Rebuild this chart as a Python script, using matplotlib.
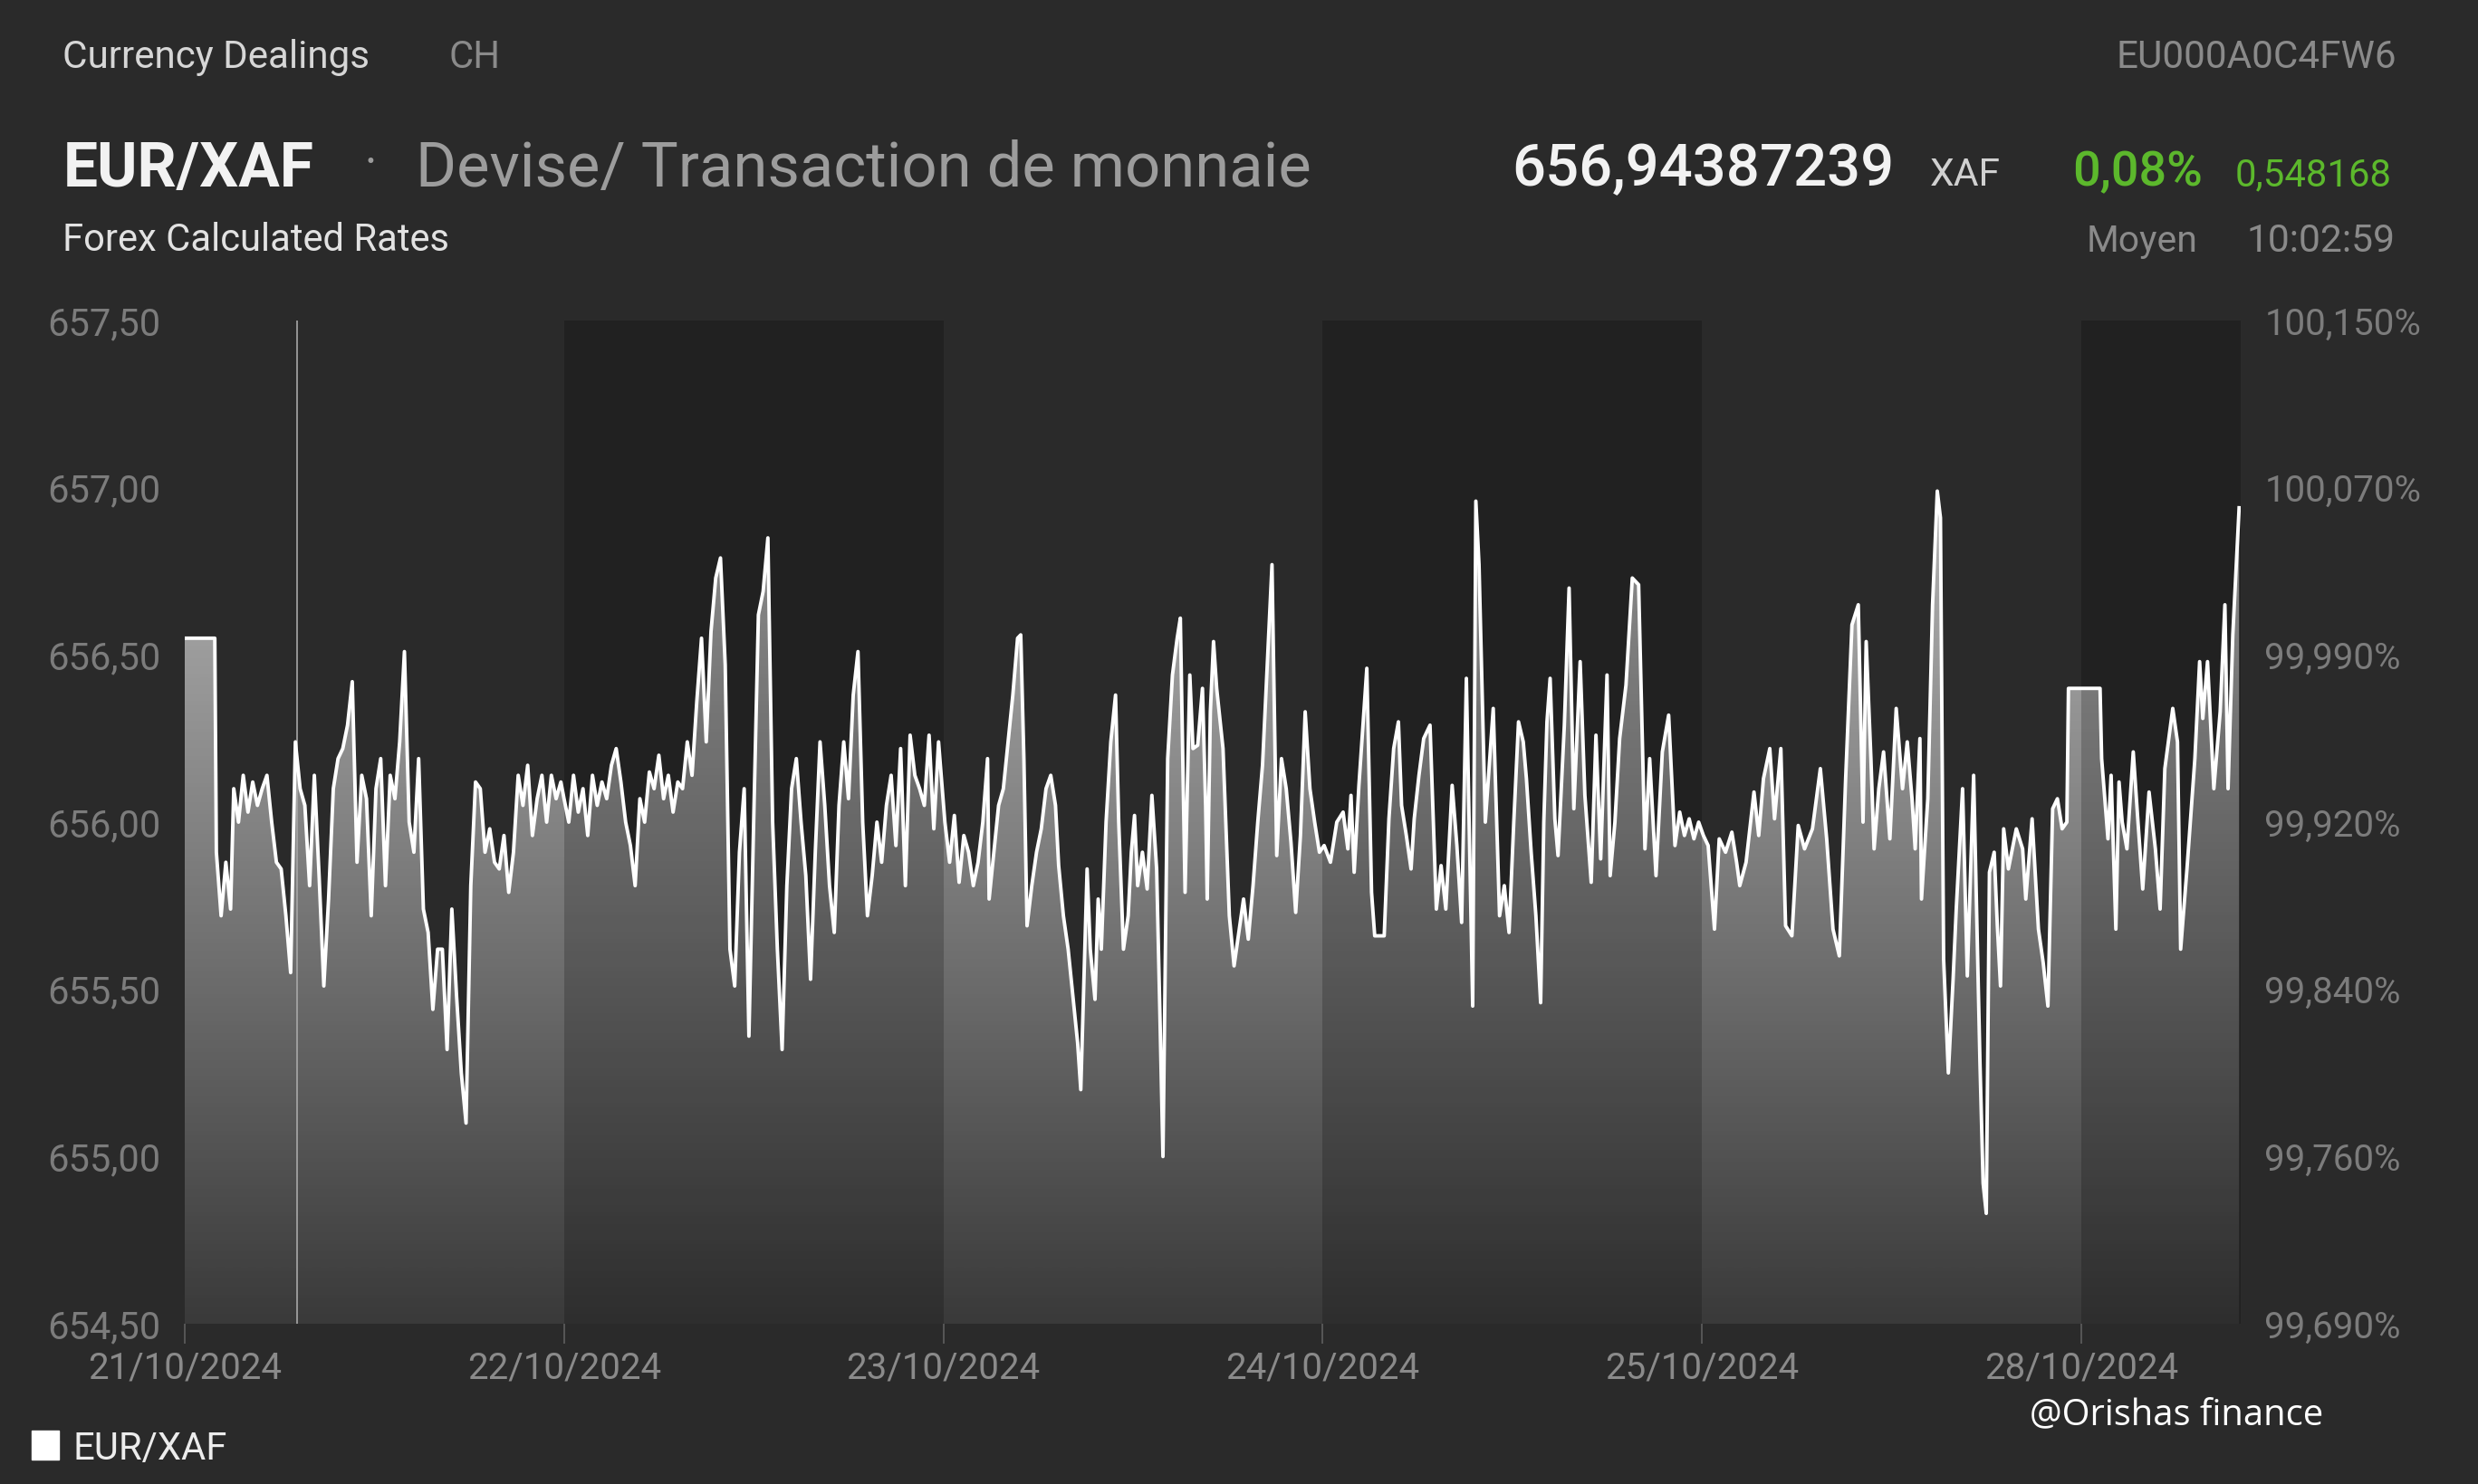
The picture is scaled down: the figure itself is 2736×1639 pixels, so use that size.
import matplotlib
matplotlib.use("Agg")
import matplotlib.pyplot as plt
from matplotlib.colors import LinearSegmentedColormap
from matplotlib.patches import Polygon, Rectangle
import numpy as np

W, H = 2736, 1639
BG = '#2a2a2a'
FONT = 'Roboto'

# ---- data: EUR/XAF, hours counted on the trading-day axis from 21/10 00:00 ----
h_2110 = [0.0, 1.9, 2.0, 2.3, 2.6, 2.9,
          3.1, 3.4, 3.7, 4.0, 4.3, 4.6, 4.9, 5.2, 5.5, 5.8,
          6.1, 6.4, 6.7, 7.0, 7.3, 7.6, 7.9, 8.2, 8.5, 8.8,
          9.1, 9.4, 9.7, 10.0, 10.3, 10.6, 10.9, 11.2, 11.5, 11.8,
          12.1, 12.4, 12.7, 13.0, 13.3, 13.6, 13.9, 14.2, 14.5, 14.8,
          15.1, 15.4, 15.7, 16.0, 16.3, 16.6, 16.9, 17.2, 17.5, 17.8,
          18.1, 18.4, 18.7, 19.0, 19.3, 19.6, 19.9, 20.2, 20.5, 20.8,
          21.1, 21.4, 21.7, 22.0, 22.3, 22.6, 22.9, 23.2, 23.5, 23.8]
r_2110 = [656.55, 656.55, 655.91, 655.72, 655.88, 655.74,
          656.10, 656.00, 656.14, 656.03, 656.12, 656.05, 656.10, 656.14, 656.00, 655.88,
          655.86, 655.72, 655.55, 656.24, 656.10, 656.05, 655.81, 656.14, 655.84, 655.51,
          655.77, 656.10, 656.19, 656.22, 656.29, 656.42, 655.88, 656.14, 656.07, 655.72,
          656.10, 656.19, 655.81, 656.14, 656.07, 656.24, 656.51, 656.00, 655.91, 656.19,
          655.74, 655.67, 655.44, 655.62, 655.62, 655.32, 655.74, 655.48, 655.25, 655.10,
          655.81, 656.12, 656.10, 655.91, 655.98, 655.88, 655.86, 655.96, 655.79, 655.91,
          656.14, 656.05, 656.17, 655.96, 656.07, 656.14, 656.00, 656.14, 656.07, 656.12]

h_2210 = [24.0, 24.3, 24.6, 24.9, 25.2, 25.5, 25.8, 26.1, 26.4, 26.7,
          27.0, 27.3, 27.6, 27.9, 28.2, 28.5, 28.8, 29.1, 29.4, 29.7,
          30.0, 30.3, 30.6, 30.9, 31.2, 31.5, 31.8, 32.1, 32.4, 32.7,
          33.0, 33.3, 33.6, 33.9, 34.2, 34.5, 34.8, 35.1, 35.4, 35.7,
          36.0, 36.3, 36.6, 36.9, 37.2, 37.5, 37.8, 38.1, 38.4, 38.7,
          39.0, 39.3, 39.6, 39.9, 40.2, 40.5, 40.8, 41.1, 41.4, 41.7,
          42.0, 42.3, 42.6, 42.9, 43.2, 43.5, 43.8, 44.1, 44.4, 44.7,
          45.0, 45.3, 45.6, 45.9, 46.2, 46.5, 46.8, 47.1, 47.4, 47.7]
r_2210 = [656.07, 656.00, 656.14, 656.03, 656.10, 655.96, 656.14, 656.05, 656.12, 656.07,
          656.17, 656.22, 656.12, 656.00, 655.93, 655.81, 656.07, 656.00, 656.15, 656.10,
          656.20, 656.07, 656.14, 656.03, 656.12, 656.10, 656.24, 656.14, 656.36, 656.55,
          656.24, 656.57, 656.73, 656.79, 656.47, 655.62, 655.51, 655.91, 656.10, 655.36,
          656.00, 656.62, 656.69, 656.85, 656.00, 655.62, 655.32, 655.81, 656.10, 656.19,
          656.00, 655.84, 655.53, 655.91, 656.24, 656.05, 655.81, 655.67, 656.05, 656.24,
          656.07, 656.38, 656.51, 656.00, 655.72, 655.84, 656.00, 655.88, 656.05, 656.14,
          655.93, 656.22, 655.81, 656.26, 656.14, 656.10, 656.05, 656.26, 655.98, 656.24]

h_2310 = [48.1, 48.4, 48.7, 49.0, 49.3, 49.6, 49.9, 50.2, 50.5, 50.8,
          50.9, 51.2, 51.5, 51.8, 52.1, 52.4, 52.7, 52.9, 53.1, 53.3,
          53.6, 53.9, 54.2, 54.5, 54.8, 55.1, 55.3, 55.6, 55.9, 56.2,
          56.5, 56.7, 56.9, 57.1, 57.3, 57.6, 57.8, 58.0, 58.3, 58.6,
          58.9, 59.1, 59.4, 59.7, 59.9, 60.1, 60.3, 60.6, 60.9, 61.2,
          61.5, 61.7, 61.9, 62.1, 62.2, 62.5, 62.8, 63.0, 63.3, 63.6,
          63.8, 64.1, 64.4, 64.6, 64.7, 64.9, 65.1, 65.3, 65.7, 66.1,
          66.4, 66.7, 67.0, 67.3, 67.6, 67.9, 68.2, 68.5, 68.8, 69.1,
          69.4, 69.7, 70.0, 70.3, 70.6, 70.9, 71.2, 71.5, 71.8]
r_2310 = [656.00, 655.88, 656.02, 655.82, 655.96, 655.91, 655.81, 655.88, 656.00, 656.19,
          655.77, 655.91, 656.05, 656.10, 656.24, 656.38, 656.55, 656.56, 656.19, 655.69,
          655.81, 655.91, 655.98, 656.10, 656.14, 656.05, 655.87, 655.72, 655.62, 655.48,
          655.34, 655.20, 655.53, 655.86, 655.62, 655.47, 655.77, 655.62, 656.00, 656.24,
          656.38, 656.00, 655.62, 655.72, 655.91, 656.02, 655.81, 655.91, 655.80, 656.08,
          655.86, 655.44, 655.00, 655.81, 656.19, 656.44, 656.55, 656.61, 655.79, 656.44,
          656.22, 656.23, 656.40, 656.05, 655.77, 656.33, 656.54, 656.40, 656.22, 655.72,
          655.57, 655.67, 655.77, 655.65, 655.81, 656.00, 656.17, 656.47, 656.77, 655.90,
          656.19, 656.10, 655.94, 655.73, 655.96, 656.33, 656.10, 656.00, 655.91]

h_2410 = [72.1, 72.5, 72.9, 73.3, 73.6, 73.8, 74.0, 74.3, 74.5, 74.8,
          75.1, 75.3, 75.7, 75.9, 76.2, 76.5, 76.8, 77.0, 77.3, 77.6,
          77.8, 78.1, 78.4, 78.8, 79.2, 79.5, 79.8, 80.2, 80.5, 80.8,
          81.1, 81.5, 81.7, 81.9, 82.1, 82.3, 82.8, 83.2, 83.5, 83.8,
          84.1, 84.4, 84.7, 84.9, 85.2, 85.5, 85.8, 86.0, 86.2, 86.4,
          86.7, 86.9, 87.3, 87.6, 87.9, 88.3, 88.6, 89.0, 89.3, 89.6,
          90.0, 90.2, 90.5, 90.8, 91.2, 91.6, 92.0, 92.4, 92.7, 93.1,
          93.5, 93.9, 94.3, 94.6, 94.9, 95.2, 95.5, 95.8]
r_2410 = [655.93, 655.88, 656.00, 656.03, 655.92, 656.08, 655.85, 656.11, 656.25, 656.46,
          655.79, 655.66, 655.66, 655.66, 656.01, 656.22, 656.30, 656.05, 655.96, 655.86,
          656.01, 656.14, 656.25, 656.29, 655.74, 655.87, 655.74, 656.11, 655.93, 655.70,
          656.43, 655.45, 656.96, 656.77, 656.38, 656.00, 656.34, 655.72, 655.81, 655.67,
          656.00, 656.30, 656.24, 656.13, 655.91, 655.72, 655.46, 656.00, 656.30, 656.43,
          656.01, 655.90, 656.29, 656.70, 656.04, 656.48, 656.08, 655.82, 656.26, 655.89,
          656.44, 655.84, 656.00, 656.25, 656.41, 656.73, 656.71, 655.92, 656.19, 655.84,
          656.21, 656.32, 655.93, 656.03, 655.96, 656.01, 655.95, 656.00]

h_2510 = [96.1, 96.4, 96.8, 97.1, 97.5, 97.9, 98.2, 98.4, 98.8, 99.3,
          99.6, 99.9, 100.3, 100.6, 101.0, 101.3, 101.7, 102.1, 102.5, 103.0,
          103.5, 103.9, 104.3, 104.7, 105.1, 105.5, 105.9, 106.2, 106.4, 106.7,
          106.9, 107.2, 107.5, 107.9, 108.3, 108.7, 109.0, 109.3, 109.5, 109.8,
          109.9, 110.3, 110.6, 110.9, 111.1, 111.3, 111.6, 111.9, 112.1, 112.5,
          112.8, 113.2, 113.6, 113.8, 114.0, 114.2, 114.5, 114.7, 114.9, 115.1,
          115.4, 115.9, 116.3, 116.5, 116.9, 117.3, 117.6, 117.9, 118.2, 118.5,
          118.8, 119.1, 119.2]
r_2510 = [655.96, 655.93, 655.68, 655.95, 655.91, 655.97, 655.88, 655.81, 655.88, 656.09,
          655.96, 656.13, 656.22, 656.01, 656.22, 655.69, 655.66, 655.99, 655.92, 655.98,
          656.16, 655.95, 655.68, 655.60, 656.13, 656.59, 656.65, 656.00, 656.54, 656.19,
          655.92, 656.10, 656.21, 655.95, 656.34, 656.10, 656.24, 656.07, 655.92, 656.25,
          655.77, 656.07, 656.65, 656.99, 656.91, 655.59, 655.25, 655.53, 655.74, 656.10,
          655.54, 656.14, 655.28, 654.92, 654.83, 655.85, 655.91, 655.69, 655.51, 655.98,
          655.86, 655.98, 655.92, 655.77, 656.01, 655.68, 655.58, 655.45, 656.04, 656.07,
          655.98, 656.00, 656.40]

h_2810 = [121.2, 121.3, 121.7, 121.9, 122.2, 122.4, 122.6, 122.9, 123.3, 123.6,
          123.9, 124.3, 124.7, 125.0, 125.3, 125.8, 126.1, 126.3, 126.7, 127.2,
          127.5, 127.7, 128.0, 128.4, 128.8, 129.1, 129.3, 129.6, 130.0]
r_2810 = [656.40, 656.19, 655.95, 656.14, 655.68, 656.12, 656.00, 655.92, 656.21, 656.00,
          655.80, 656.09, 655.92, 655.74, 656.16, 656.34, 656.24, 655.62, 655.86, 656.19,
          656.48, 656.31, 656.48, 656.10, 656.33, 656.65, 656.10, 656.56, 656.94]

day_labels = ['21/10/2024', '22/10/2024', '23/10/2024', '24/10/2024', '25/10/2024', '28/10/2024']
day_starts = [0, 24, 48, 72, 96, 120]
shaded_days = [24, 72, 120]
y_ticks = [654.5, 655.0, 655.5, 656.0, 656.5, 657.0, 657.5]
y_labels = ['654,50', '655,00', '655,50', '656,00', '656,50', '657,00', '657,50']
pct_labels = ['99,690%', '99,760%', '99,840%', '99,920%', '99,990%', '100,070%', '100,150%']
cursor_hour = 7.1
x_end = 130.1

hours = np.array(h_2110 + h_2210 + h_2310 + h_2410 + h_2510 + h_2810)
rates = np.array(r_2110 + r_2210 + r_2310 + r_2410 + r_2510 + r_2810)

fig = plt.figure(figsize=(W / 100, H / 100), dpi=100, facecolor=BG)
renderer = fig.canvas.get_renderer()

ax_left, ax_right, ax_top, ax_bot = 204, 2474, 354, 1462
ax = fig.add_axes([ax_left / W, 1 - ax_bot / H, (ax_right - ax_left) / W, (ax_bot - ax_top) / H])
ax.set_facecolor(BG)

# gradient area under the line
grad = np.linspace(0, 1, 256).reshape(-1, 1)
cmap = LinearSegmentedColormap.from_list('area', ['#3a3a3a', '#cccccc'])
img = ax.imshow(grad, extent=[0, x_end, y_ticks[0], y_ticks[-1]], origin='lower',
                aspect='auto', cmap=cmap, zorder=1, interpolation='bilinear')
verts = [(hours[0], y_ticks[0])] + list(zip(hours, rates)) + [(hours[-1], y_ticks[0])]
area = Polygon(verts, closed=True, fill=False, lw=0)
ax.add_patch(area)
img.set_clip_path(area)

for start in shaded_days:
    ax.axvspan(start, min(start + 24, x_end), color='black', alpha=0.2, lw=0, zorder=2)

ax.axvline(cursor_hour, color='#a8a8a8', lw=1.2, zorder=3)
ax.plot(hours, rates, color='white', lw=2.8, zorder=4)

ax.set_xlim(0, x_end)
ax.set_ylim(y_ticks[0], y_ticks[-1])

ax.set_xticks(day_starts)
ax.set_xticklabels(day_labels, family=FONT, fontsize=29, color='#8a8a8a')
ax.tick_params(axis='x', length=16, width=1.2, color='#5e5e5e', pad=5)
ax.set_yticks(y_ticks)
ax.set_yticklabels(y_labels, family=FONT, fontsize=30, color='#7c7c7c')
ax.tick_params(axis='y', length=0, pad=19)
for s in ax.spines.values():
    s.set_visible(False)

ax2 = ax.twinx()
ax2.set_ylim(y_ticks[0], y_ticks[-1])
ax2.set_yticks(y_ticks)
ax2.set_yticklabels(pct_labels, family=FONT, fontsize=29, color='#7c7c7c')
ax2.tick_params(axis='y', length=0, pad=19)
for s in ax2.spines.values():
    s.set_visible(False)


def put(s, x0, x1, base, color, weight='normal', family=FONT):
    # place text with its left edge at x0 and scale it to end at x1 (pixels)
    t = fig.text(x0 / W, 1 - base / H, s, color=color, fontsize=20, fontweight=weight,
                 family=family, ha='left', va='baseline')
    w = t.get_window_extent(renderer).width
    t.set_fontsize(20 * (x1 - x0) / w)
    return t


put('Currency Dealings', 69, 407, 75, '#d6d6d6')
put('CH', 496, 553, 75, '#8a8a8a')
put('EU000A0C4FW6', 2336, 2645, 75, '#8a8a8a')

put('EUR/XAF', 70, 347, 206, '#f2f2f2', weight='bold')
put('·', 403, 414, 190, '#9c9c9c', weight='bold')
put('Devise/ Transaction de monnaie', 459, 1445, 206, '#9c9c9c')
put('656,94387239', 1669, 2091, 205, '#f2f2f2', weight='medium')
put('XAF', 2131, 2209, 205, '#d0d0d0')
put('0,08%', 2288, 2432, 205, '#5cb82c', weight='medium')
put('0,548168', 2468, 2641, 205, '#5cb82c')

put('Forex Calculated Rates', 69, 496, 277, '#e2e2e2')
put('Moyen', 2304, 2426, 278, '#8a8a8a')
put('10:02:59', 2481, 2645, 278, '#8a8a8a')

# legend
fig.patches.append(Rectangle((35 / W, 1 - 1612 / H), 30 / W, 32 / H,
                             transform=fig.transFigure, color='white'))
put('EUR/XAF', 80, 250, 1612, '#ececec')

put('@Orishas finance', 2241, 2565, 1573, 'white', family='Open Sans')

fig.savefig('out.png', dpi=100, facecolor=BG)
